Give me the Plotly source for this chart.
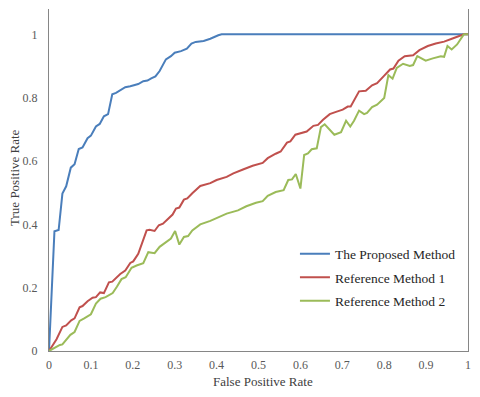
import plotly.graph_objects as go

# ROC curve points
fpr_proposed = [0, 0.013, 0.023, 0.032, 0.041, 0.052, 0.061, 0.071, 0.080, 0.092, 0.100,
                0.112, 0.121, 0.131, 0.141, 0.151, 0.160, 0.170, 0.182, 0.194, 0.205,
                0.213, 0.225, 0.235, 0.244, 0.254, 0.264, 0.279, 0.291, 0.300, 0.315,
                0.329, 0.340, 0.350, 0.369, 0.385, 0.404, 0.412, 1.0]
tpr_proposed = [0, 0.378, 0.382, 0.497, 0.520, 0.579, 0.590, 0.638, 0.643, 0.672, 0.680,
                0.709, 0.717, 0.741, 0.748, 0.811, 0.815, 0.822, 0.833, 0.836, 0.841,
                0.843, 0.852, 0.854, 0.861, 0.867, 0.884, 0.921, 0.931, 0.942, 0.947,
                0.955, 0.971, 0.976, 0.979, 0.986, 0.997, 1.0, 1.0]

fpr_ref1 = [0, 0.018, 0.032, 0.041, 0.053, 0.061, 0.073, 0.080, 0.092, 0.104, 0.112,
            0.122, 0.131, 0.143, 0.151, 0.162, 0.170, 0.182, 0.194, 0.201, 0.213,
            0.233, 0.240, 0.252, 0.262, 0.272, 0.283, 0.295, 0.303, 0.311, 0.322,
            0.330, 0.342, 0.361, 0.385, 0.400, 0.424, 0.440, 0.463, 0.486, 0.510,
            0.522, 0.541, 0.553, 0.568, 0.576, 0.588, 0.600, 0.615, 0.631, 0.642,
            0.654, 0.670, 0.685, 0.701, 0.713, 0.720, 0.740, 0.756, 0.771, 0.783,
            0.799, 0.814, 0.822, 0.834, 0.849, 0.869, 0.884, 0.904, 0.923, 0.943,
            0.963, 0.990, 1.0]
tpr_ref1 = [0, 0.037, 0.076, 0.081, 0.097, 0.103, 0.138, 0.142, 0.157, 0.168, 0.170,
            0.185, 0.183, 0.217, 0.219, 0.233, 0.243, 0.254, 0.278, 0.283, 0.307,
            0.381, 0.383, 0.379, 0.397, 0.402, 0.415, 0.431, 0.450, 0.453, 0.478,
            0.482, 0.498, 0.521, 0.530, 0.540, 0.550, 0.561, 0.573, 0.585, 0.594,
            0.609, 0.623, 0.630, 0.658, 0.662, 0.683, 0.688, 0.693, 0.711, 0.714,
            0.730, 0.748, 0.755, 0.762, 0.772, 0.772, 0.820, 0.822, 0.839, 0.846,
            0.868, 0.889, 0.892, 0.917, 0.931, 0.934, 0.950, 0.963, 0.971, 0.977,
            0.987, 1.0, 1.0]

fpr_ref2 = [0, 0.014, 0.026, 0.032, 0.041, 0.051, 0.061, 0.073, 0.084, 0.100, 0.112,
            0.123, 0.135, 0.152, 0.162, 0.173, 0.183, 0.197, 0.209, 0.225, 0.237,
            0.252, 0.264, 0.279, 0.291, 0.301, 0.311, 0.322, 0.332, 0.342, 0.361,
            0.385, 0.404, 0.424, 0.451, 0.471, 0.494, 0.510, 0.522, 0.541, 0.560,
            0.571, 0.580, 0.589, 0.600, 0.609, 0.618, 0.627, 0.639, 0.649, 0.658,
            0.681, 0.697, 0.709, 0.719, 0.728, 0.740, 0.752, 0.759, 0.771, 0.783,
            0.800, 0.810, 0.820, 0.830, 0.845, 0.861, 0.869, 0.879, 0.899, 0.916,
            0.935, 0.943, 0.951, 0.961, 0.974, 0.990, 1.0]
tpr_ref2 = [0, 0.011, 0.019, 0.021, 0.037, 0.051, 0.060, 0.095, 0.103, 0.116, 0.150,
            0.165, 0.170, 0.183, 0.203, 0.227, 0.233, 0.263, 0.270, 0.277, 0.312,
            0.309, 0.329, 0.342, 0.355, 0.379, 0.336, 0.360, 0.363, 0.381, 0.400,
            0.411, 0.423, 0.434, 0.444, 0.457, 0.468, 0.473, 0.490, 0.502, 0.508,
            0.540, 0.542, 0.559, 0.513, 0.619, 0.624, 0.637, 0.640, 0.707, 0.716,
            0.683, 0.691, 0.727, 0.709, 0.727, 0.759, 0.748, 0.752, 0.770, 0.778,
            0.799, 0.871, 0.860, 0.894, 0.907, 0.900, 0.903, 0.931, 0.917, 0.924,
            0.931, 0.929, 0.963, 0.952, 0.968, 1.0, 1.0]

tick_vals = [0, 0.1, 0.2, 0.3, 0.4, 0.5, 0.6, 0.7, 0.8, 0.9, 1]
tick_text = ["0", "0.1", "0.2", "0.3", "0.4", "0.5", "0.6", "0.7", "0.8", "0.9", "1"]
ytick_vals = [0, 0.2, 0.4, 0.6, 0.8, 1]
ytick_text = ["0", "0.2", "0.4", "0.6", "0.8", "1"]

serif = "Liberation Serif"

fig = go.Figure()
fig.add_trace(go.Scatter(x=fpr_proposed, y=tpr_proposed, mode="lines", legendgroup="a",
                         name="The Proposed Method", line=dict(color="#4a7ebb", width=2)))
fig.add_trace(go.Scatter(x=fpr_ref1, y=tpr_ref1, mode="lines", legendgroup="b",
                         name="Reference Method 1", line=dict(color="#c0504d", width=2)))
fig.add_trace(go.Scatter(x=fpr_ref2, y=tpr_ref2, mode="lines", legendgroup="c",
                         name="Reference Method 2", line=dict(color="#9bbb59", width=2)))

# page body has an 8px margin: keep the figure small enough to avoid scrollbars
fig.update_layout(
    width=464, height=381,
    margin=dict(l=41, r=4, t=1, b=38),
    paper_bgcolor="white", plot_bgcolor="white",
    font=dict(family=serif, size=13, color="#404040"),
    showlegend=True,
    legend=dict(x=0.587, y=0.329, xanchor="left", yanchor="top",
                bgcolor="rgba(0,0,0,0)", font=dict(family=serif, size=13.5, color="#262626"),
                tracegroupgap=3, itemwidth=30),
    annotations=[
        dict(text="False Positive Rate", xref="paper", yref="paper", x=0.511, y=0,
             xanchor="center", yanchor="top", yshift=-21, showarrow=False,
             font=dict(family=serif, size=13, color="#404040")),
        dict(text="True Positive Rate", xref="paper", yref="paper", x=0, y=0.506,
             xanchor="center", yanchor="middle", xshift=-34, textangle=-90, showarrow=False,
             font=dict(family=serif, size=13, color="#404040")),
    ],
)

fig.update_xaxes(
    range=[0, 1], tickvals=tick_vals, ticktext=tick_text, automargin=False,
    showgrid=False, zeroline=False, showline=True, linecolor="#868686", linewidth=1,
    ticks="", ticklabelstandoff=3, tickfont=dict(family=serif, size=12, color="#595959"),
)

fig.update_yaxes(
    range=[0, 1.08], tickvals=ytick_vals, ticktext=ytick_text, automargin=False,
    showgrid=False, zeroline=False, showline=True, linecolor="#868686", linewidth=1,
    mirror=True,
    ticks="", ticklabelstandoff=8, tickfont=dict(family=serif, size=12, color="#595959"),
)

fig.write_html("out.html")
